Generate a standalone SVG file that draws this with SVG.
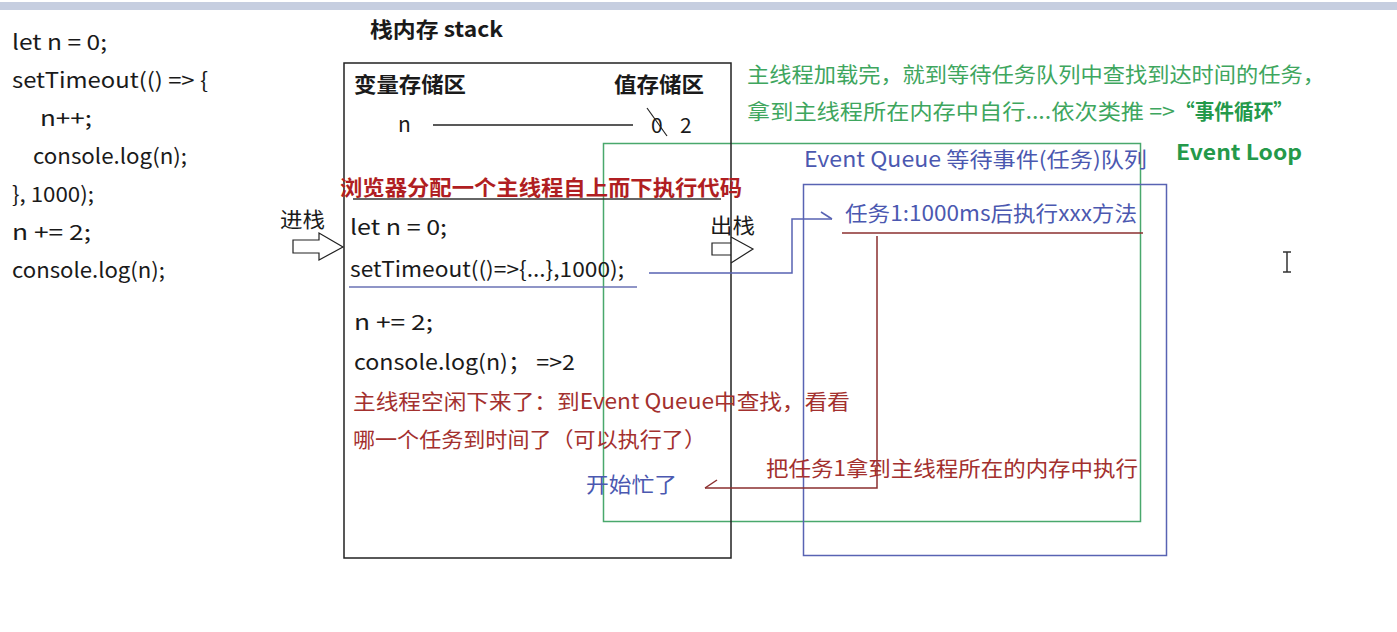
<svg xmlns="http://www.w3.org/2000/svg" width="1397" height="632" viewBox="0 0 1397 632">
<style>
text{font-family:"Noto Sans CJK SC","Noto Sans",sans-serif;font-size:21px}
.k{fill:#1a1a1a}
.b{font-weight:bold}
.r{fill:#a3302e}
.rb{fill:#b01e22;font-weight:bold}
.bl{fill:#4b58b0}
.g{fill:#3ea65e}
.gb{fill:#24994a;font-weight:bold}
.ln{fill:none;stroke-width:1.5}
</style>
<rect x="0" y="0" width="1397" height="632" fill="#ffffff"/>
<rect x="0" y="2" width="1397" height="8" fill="#c6cee0"/>

<g id="code">
<text class="k" x="12" y="50" textLength="95" lengthAdjust="spacingAndGlyphs">let n = 0;</text>
<text class="k" x="12" y="88" textLength="196" lengthAdjust="spacingAndGlyphs">setTimeout(() =&gt; {</text>
<text class="k" x="40" y="126" textLength="52" lengthAdjust="spacingAndGlyphs">n++;</text>
<text class="k" x="33" y="164" textLength="154" lengthAdjust="spacingAndGlyphs">console.log(n);</text>
<text class="k" x="12" y="202" textLength="82" lengthAdjust="spacingAndGlyphs">}, 1000);</text>
<text class="k" x="12" y="240" textLength="79" lengthAdjust="spacingAndGlyphs">n += 2;</text>
<text class="k" x="12" y="278" textLength="153" lengthAdjust="spacingAndGlyphs">console.log(n);</text>
</g>

<g id="event-loop-note">
<text class="g" x="747" y="82" textLength="578" lengthAdjust="spacingAndGlyphs">主线程加载完，就到等待任务队列中查找到达时间的任务，</text>
<text class="g" x="747" y="119" textLength="428" lengthAdjust="spacingAndGlyphs">拿到主线程所在内存中自行....依次类推 =&gt; </text>
<text class="gb" x="1175" y="119" textLength="118" lengthAdjust="spacingAndGlyphs">“事件循环”</text>
<text class="gb" x="1176" y="160" textLength="126" lengthAdjust="spacingAndGlyphs">Event Loop</text>
</g>

<g id="green-box">
<rect x="603.5" y="143.5" width="537" height="378" fill="none" stroke="#49a86c" stroke-width="1.5"/>
</g>

<g id="event-queue">
<rect x="803.5" y="184.5" width="363" height="371" fill="none" stroke="#5863b3" stroke-width="1.5"/>
<text class="bl" x="804" y="167" textLength="343" lengthAdjust="spacingAndGlyphs">Event Queue  等待事件(任务)队列</text>
<text class="bl" x="845" y="221" textLength="292" lengthAdjust="spacingAndGlyphs">任务1:1000ms后执行xxx方法</text>
<line x1="842" y1="233" x2="1143" y2="233" stroke="#8b2f2f" stroke-width="1.5"/>
</g>

<g id="stack">
<text class="k b" x="370" y="37" textLength="133" lengthAdjust="spacingAndGlyphs">栈内存 stack</text>
<rect x="344" y="63" width="387" height="495" fill="none" stroke="#222" stroke-width="1.5"/>
<text class="k b" x="354" y="92" textLength="112" lengthAdjust="spacingAndGlyphs">变量存储区</text>
<text class="k b" x="614" y="92" textLength="90" lengthAdjust="spacingAndGlyphs">值存储区</text>
<text class="k" x="398" y="132">n</text>
<line x1="433" y1="125" x2="633" y2="125" stroke="#222" stroke-width="1.5"/>
<text class="k" x="651" y="133">0</text>
<line x1="647" y1="108" x2="667" y2="136" stroke="#222" stroke-width="1.2"/>
<text class="k" x="680" y="133">2</text>
<text class="rb" x="340" y="195" textLength="402" lengthAdjust="spacingAndGlyphs">浏览器分配一个主线程自上而下执行代码</text>
<line x1="353" y1="199" x2="721" y2="199" stroke="#333" stroke-width="1.5"/>
<text class="k" x="350" y="235" textLength="97" lengthAdjust="spacingAndGlyphs">let n = 0;</text>
<text class="k" x="350" y="277" textLength="274" lengthAdjust="spacingAndGlyphs">setTimeout(()=&gt;{...},1000);</text>
<line x1="349" y1="287" x2="637" y2="287" stroke="#6a72b5" stroke-width="1.5"/>
<text class="k" x="354" y="330" textLength="79" lengthAdjust="spacingAndGlyphs">n += 2;</text>
<text class="k" x="354" y="370" textLength="221" lengthAdjust="spacingAndGlyphs">console.log(n)；  =&gt;2</text>
<text class="r" x="353" y="409" textLength="497" lengthAdjust="spacingAndGlyphs">主线程空闲下来了：到Event Queue中查找，看看</text>
<text class="r" x="353" y="447" textLength="353" lengthAdjust="spacingAndGlyphs">哪一个任务到时间了（可以执行了）</text>
<text class="bl" x="586" y="492" textLength="91" lengthAdjust="spacingAndGlyphs">开始忙了</text>
</g>

<g id="push-arrow">
<text class="k" x="280" y="227" textLength="45" lengthAdjust="spacingAndGlyphs">进栈</text>
<path d="M293 240 H319 V233 L343 247 L319 260 V253 H293 Z" fill="#fff" stroke="#222" stroke-width="1.2"/>
</g>

<g id="pop-arrow">
<text class="k" x="710" y="233" textLength="45" lengthAdjust="spacingAndGlyphs">出栈</text>
<path d="M731 243 H712 V255 H731 M731 237 L753 249 L731 263" fill="none" stroke="#222" stroke-width="1.2"/>
</g>

<g id="connectors">
<path class="ln" d="M649 273 H792 V219 H832" stroke="#5863b3"/>
<path class="ln" d="M821 212 L832 219" stroke="#5863b3"/>
<path class="ln" d="M877 236 V488 H705" stroke="#8b2f2f"/>
<path class="ln" d="M705 488 L717 480" stroke="#8b2f2f"/>
<text class="r" x="766" y="476" textLength="372" lengthAdjust="spacingAndGlyphs">把任务1拿到主线程所在的内存中执行</text>
</g>

<g id="cursor">
<path d="M1283 252 H1291 M1287 252 V272 M1283 272 H1291" fill="none" stroke="#333" stroke-width="1.5"/>
</g>
</svg>
